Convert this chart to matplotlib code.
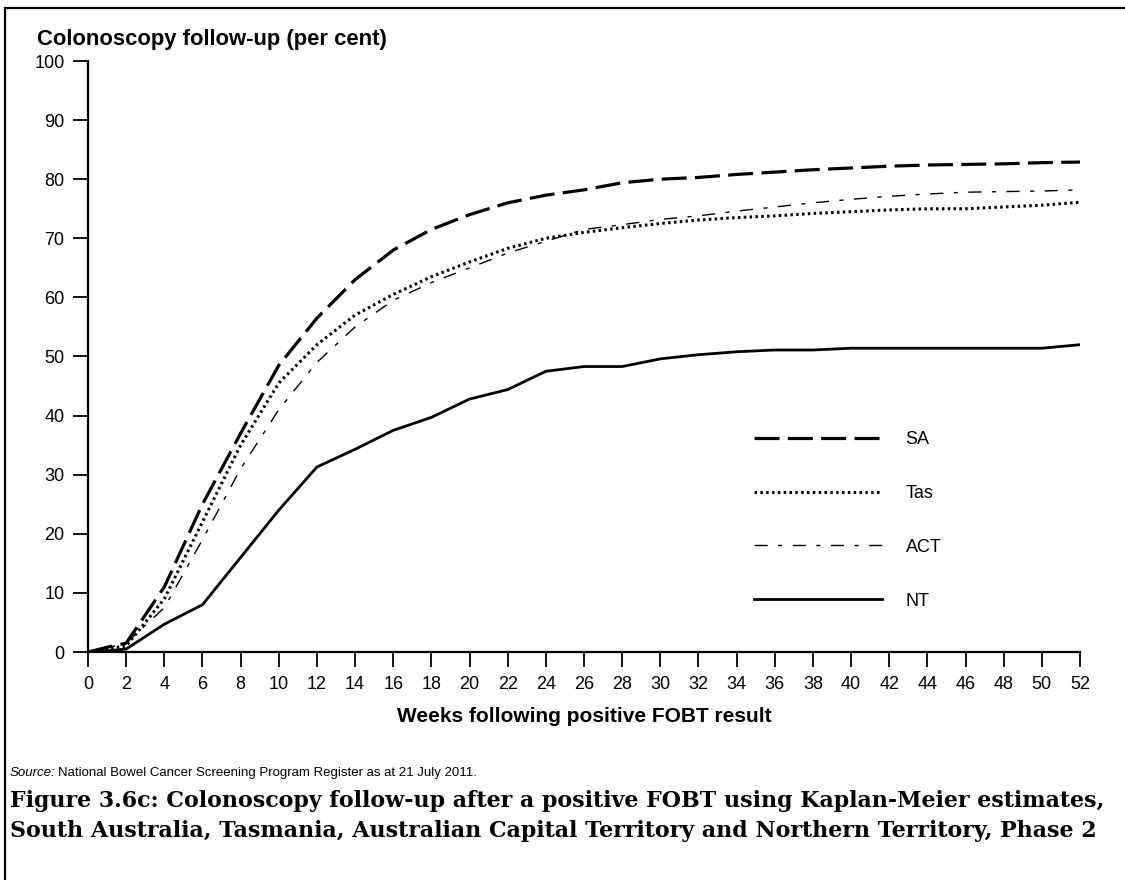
import matplotlib
matplotlib.use('Agg')
import matplotlib.pyplot as plt
from matplotlib.lines import Line2D

plt.rcParams['font.family'] = ['Liberation Sans', 'DejaVu Sans']
plt.rcParams['lines.scale_dashes'] = False

# Datos
weeks = [0, 1, 2, 4, 6, 8, 10, 12, 14, 16, 18, 20, 22, 24, 26, 28, 30,
         32, 34, 36, 38, 40, 42, 44, 46, 48, 50, 52]
sa = [0, 0.8, 1.5, 11, 25, 37, 48.5, 56.5, 63, 68, 71.5, 74, 76, 77.3, 78.2, 79.4, 80,
      80.3, 80.8, 81.2, 81.6, 81.9, 82.2, 82.4, 82.5, 82.6, 82.8, 82.9]
tas = [0, 0.6, 1.0, 9, 22, 35, 45.5, 52, 57, 60.5, 63.5, 66, 68.3, 70, 71, 71.8, 72.5,
       73.1, 73.5, 73.8, 74.2, 74.5, 74.8, 75, 75, 75.3, 75.6, 76.1]
act = [0, 0.7, 1.5, 7.5, 19, 31, 41, 49, 55, 59.5, 62.5, 65, 67.5, 69.5, 71.5, 72.3, 73.2,
       73.8, 74.6, 75.3, 76, 76.6, 77.1, 77.5, 77.8, 77.9, 78, 78.2]
nt = [0, 0.2, 0.5, 4.7, 8, 16, 24, 31.3, 34.3, 37.5, 39.7, 42.8, 44.4, 47.5, 48.3, 48.3, 49.6,
      50.3, 50.8, 51.1, 51.1, 51.4, 51.4, 51.4, 51.4, 51.4, 51.4, 52]

caption = ['Figure 3.6c: Colonoscopy follow-up after a positive FOBT using Kaplan-Meier estimates,',
           'South Australia, Tasmania, Australian Capital Territory and Northern Territory, Phase 2']

fig = plt.figure(figsize=(11.25, 8.8), dpi=100)
ax = fig.add_axes([88 / 1125, 1 - 652 / 880, (1080 - 88) / 1125, (652 - 61) / 880])

ax.plot(weeks, sa, color='black', lw=2.3, ls=(0, (18, 6)), label='SA')
ax.plot(weeks, tas, color='black', lw=2.2, ls=(0, (1.8, 2.4)), label='Tas')
ax.plot(weeks, act, color='black', lw=1.0, ls=(0, (9.5, 7.5, 3, 7.5)), label='ACT')
ax.plot(weeks, nt, color='black', lw=2.0, ls='-', label='NT')

ax.set_xlim(0, 52)
ax.set_ylim(0, 100)
ax.set_xticks(range(0, 53, 2))
ax.set_yticks(range(0, 101, 10))
ax.tick_params(axis='both', direction='out', length=11, width=1.3, labelsize=13, pad=6)
for s in ['top', 'right']:
    ax.spines[s].set_visible(False)
for s in ['left', 'bottom']:
    ax.spines[s].set_linewidth(1.6)

ax.set_xlabel('Weeks following positive FOBT result', fontsize=15, fontweight='bold', labelpad=10)
fig.text(37 / 1125, 1 - 40 / 880, 'Colonoscopy follow-up (per cent)', fontsize=15.8,
         fontweight='bold', va='center', ha='left')

ax.legend(loc='upper left', bbox_to_anchor=(745 / 1125, 1 - 422 / 880),
          bbox_transform=fig.transFigure, frameon=False, fontsize=13,
          handlelength=7.1, handletextpad=1.3, labelspacing=2.04, borderpad=0)

# Fuente y titulo de la figura
fig.text(10 / 1125, 1 - 773 / 880, 'Source:', fontsize=9.5, style='italic', va='center')
fig.text(58 / 1125, 1 - 773 / 880, 'National Bowel Cancer Screening Program Register as at 21 July 2011.',
         fontsize=9.5, va='center')
cap_texts = []
for i, line in enumerate(caption):
    t = fig.text(10 / 1125, 1 - (801 + 30 * i) / 880, line,
                 family=['DejaVu Serif'], fontsize=16, fontweight='bold', va='center')
    cap_texts.append(t)

# ajustar el tamano del titulo al ancho original (~1097 px)
fig.canvas.draw()
w = cap_texts[0].get_window_extent().width
for t in cap_texts:
    t.set_fontsize(16 * 1097 / w)

# Marco
fig.add_artist(Line2D([5 / 1125, 5 / 1125], [0, 1 - 8 / 880], color='black', lw=1.6,
                      transform=fig.transFigure))
fig.add_artist(Line2D([5 / 1125, 1], [1 - 8 / 880, 1 - 8 / 880], color='black', lw=1.6,
                      transform=fig.transFigure))

fig.savefig('out.png', dpi=100)
